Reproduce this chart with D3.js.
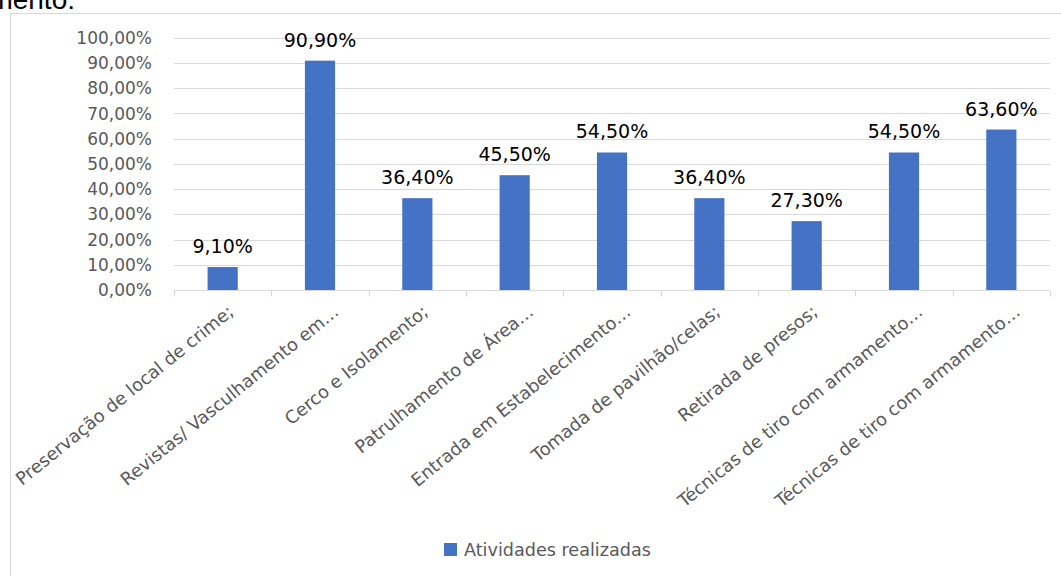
<!DOCTYPE html>
<html>
<head>
<meta charset="utf-8">
<script src="https://cdn.jsdelivr.net/npm/d3@7"></script>
<style>
  html, body { margin: 0; padding: 0; background: #fff; }
  svg { display: block; }
</style>
</head>
<body>
<svg id="chart" width="1061" height="576"></svg>
<script>
// Activities carried out (share of respondents)
const categories = [
  "Preservação de local de crime;",
  "Revistas/ Vasculhamento em…",
  "Cerco e Isolamento;",
  "Patrulhamento de Área…",
  "Entrada em Estabelecimento…",
  "Tomada de pavilhão/celas;",
  "Retirada de presos;",
  "Técnicas de tiro com armamento…",
  "Técnicas de tiro com armamento…"
];
const values = [0.091, 0.909, 0.364, 0.455, 0.545, 0.364, 0.273, 0.545, 0.636];
const yTicks = [0, 0.1, 0.2, 0.3, 0.4, 0.5, 0.6, 0.7, 0.8, 0.9, 1.0];
const seriesName = "Atividades realizadas";

const ptBR = d3.formatLocale({ decimal: ",", thousands: ".", grouping: [3], currency: ["R$", ""] });
const pct = ptBR.format(".2%");

const svg = d3.select("#chart");
const font = "'DejaVu Sans', 'Noto Sans', sans-serif";
const grey = "#595959";
const gridColor = "#d9d9d9";
const barColor = "#4472C4";

const plot = { left: 174, right: 1050, top: 37.7, bottom: 290 };

// Caption line from the surrounding text, mostly outside the frame
svg.append("text")
  .attr("x", 75).attr("y", 9)
  .attr("text-anchor", "end")
  .attr("font-family", "'Liberation Sans', Arial, sans-serif")
  .attr("font-size", 28)
  .attr("fill", "#000")
  .text("imento:");

// Chart frame
svg.append("rect")
  .attr("x", 10.5).attr("y", 13.5)
  .attr("width", 1100).attr("height", 700)
  .attr("fill", "none")
  .attr("stroke", gridColor)
  .attr("stroke-width", 1);

const x = d3.scaleBand()
  .domain(d3.range(categories.length))
  .range([plot.left, plot.right])
  .padding(0);

const y = d3.scaleLinear()
  .domain([0, 1])
  .range([plot.bottom, plot.top]);

// Horizontal gridlines
svg.append("g")
  .selectAll("line")
  .data(yTicks.filter(t => t > 0))
  .join("line")
  .attr("x1", plot.left).attr("x2", plot.right)
  .attr("y1", d => Math.round(y(d)) + 0.5)
  .attr("y2", d => Math.round(y(d)) + 0.5)
  .attr("stroke", gridColor)
  .attr("stroke-width", 1.2);

// Y axis labels
svg.append("g")
  .selectAll("text")
  .data(yTicks)
  .join("text")
  .attr("x", 152)
  .attr("y", d => y(d))
  .attr("dy", "0.36em")
  .attr("text-anchor", "end")
  .attr("font-family", font)
  .attr("font-size", 17)
  .attr("fill", grey)
  .text(d => pct(d));

// Category axis line and tick marks
const axisY = Math.round(plot.bottom) + 0.5;
svg.append("line")
  .attr("x1", plot.left).attr("x2", plot.right)
  .attr("y1", axisY).attr("y2", axisY)
  .attr("stroke", gridColor)
  .attr("stroke-width", 1.2);

const boundaries = d3.range(categories.length).map(i => x(i)).concat([plot.right]);
svg.append("g")
  .selectAll("line")
  .data(boundaries)
  .join("line")
  .attr("x1", d => Math.round(d) + 0.5).attr("x2", d => Math.round(d) + 0.5)
  .attr("y1", axisY).attr("y2", axisY + 6)
  .attr("stroke", gridColor)
  .attr("stroke-width", 1.2);

// Bars
const barW = x.bandwidth() * 0.31;
svg.append("g")
  .selectAll("rect")
  .data(values)
  .join("rect")
  .attr("x", (d, i) => x(i) + (x.bandwidth() - barW) / 2)
  .attr("y", d => y(d))
  .attr("width", barW)
  .attr("height", d => y(0) - y(d))
  .attr("fill", barColor);

// Value labels
svg.append("g")
  .selectAll("text")
  .data(values)
  .join("text")
  .attr("x", (d, i) => x(i) + x.bandwidth() / 2)
  .attr("y", d => y(d) - 14)
  .attr("text-anchor", "middle")
  .attr("font-family", font)
  .attr("font-size", 19)
  .attr("fill", "#000")
  .text(d => pct(d));

// Rotated category labels; truncated names carry a trailing ellipsis that
// sits past the tick, so they are nudged further right
svg.append("g")
  .selectAll("text")
  .data(categories)
  .join("text")
  .attr("transform", (d, i) => {
    const cx = x(i) + x.bandwidth() / 2 + (d.endsWith("…") ? 16 : 8);
    return `translate(${cx},309) rotate(-39)`;
  })
  .attr("text-anchor", "end")
  .attr("dy", "0.35em")
  .attr("font-family", font)
  .attr("font-size", 17.8)
  .attr("fill", grey)
  .text(d => d);

// Legend
const legend = svg.append("g");
legend.append("rect")
  .attr("x", 444).attr("y", 543)
  .attr("width", 13).attr("height", 13)
  .attr("fill", barColor);
legend.append("text")
  .attr("x", 464).attr("y", 549.5)
  .attr("dy", "0.36em")
  .attr("font-family", font)
  .attr("font-size", 17.6)
  .attr("fill", grey)
  .text(seriesName);
</script>
</body>
</html>
